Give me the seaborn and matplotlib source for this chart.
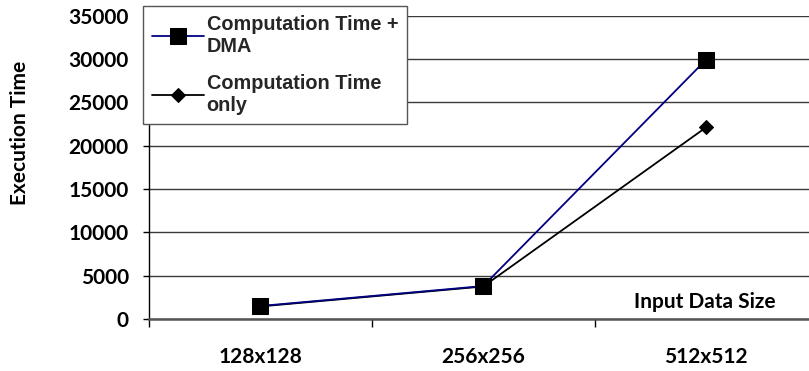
import matplotlib
matplotlib.use("Agg")
import matplotlib.pyplot as plt
import matplotlib.ticker as mticker
import seaborn as sns
import pandas as pd

# Data
categories = ["128x128", "256x256", "512x512"]
time_with_dma = [1500, 3800, 29900]
time_compute_only = [1450, 3750, 22100]
y_ticks = [0, 5000, 10000, 15000, 20000, 25000, 30000, 35000]

label_dma = "Computation Time +\nDMA"
label_only = "Computation Time\nonly"

sns.set_theme(style="white")
plt.rcParams["font.family"] = ["Lato", "DejaVu Sans"]

W, H, DPI = 809, 371, 100
fig = plt.figure(figsize=(W / DPI, H / DPI), dpi=DPI)
ax = fig.add_axes([149 / W, 52 / H, (W - 149) / W, (319 - 15.5) / H])

pos = list(range(len(categories)))
df = pd.DataFrame({
    "pos": pos * 2,
    "value": time_with_dma + time_compute_only,
    "series": [label_dma] * 3 + [label_only] * 3,
})

sns.lineplot(data=df[df.series == label_only], x="pos", y="value", ax=ax,
             color="black", lw=1.3, marker="D", markersize=6.8,
             markeredgecolor="black", markerfacecolor="black",
             label=label_only, zorder=3)
sns.lineplot(data=df[df.series == label_dma], x="pos", y="value", ax=ax,
             color="#000080", lw=1.3, marker="s", markersize=12,
             markeredgecolor="black", markerfacecolor="black",
             label=label_dma, zorder=4)

ax.set_xlim(-0.5, (809 - 260) / 223)
ax.set_ylim(0, 35000)

# Horizontal gridlines only
ax.yaxis.set_major_locator(mticker.FixedLocator(y_ticks))
ax.yaxis.set_major_formatter(mticker.FuncFormatter(lambda v, p: f"{int(v)}"))
ax.grid(axis="y", color="#3a3a3a", lw=1.0)
ax.grid(axis="x", visible=False)
ax.set_axisbelow(True)

# Category boundaries get tick marks, centers get labels
ax.xaxis.set_major_locator(mticker.FixedLocator([-0.5, 0.5, 1.5, 2.5]))
ax.xaxis.set_major_formatter(mticker.NullFormatter())
ax.xaxis.set_minor_locator(mticker.FixedLocator(pos))
ax.xaxis.set_minor_formatter(mticker.FixedFormatter(categories))
ax.tick_params(axis="x", which="major", direction="out", length=6, width=1, color="black", bottom=True)
ax.tick_params(axis="x", which="minor", length=0, pad=20, labelsize=15)
ax.tick_params(axis="y", which="major", direction="out", length=4.5, width=1, color="black", left=True,
               pad=10, labelsize=15)
for lab in ax.get_xticklabels(minor=True) + ax.get_yticklabels():
    lab.set_fontweight("bold")
    lab.set_color("black")

for side in ("top", "right"):
    ax.spines[side].set_visible(False)
ax.spines["left"].set_color("black")
ax.spines["left"].set_linewidth(1.0)
ax.spines["bottom"].set_color("#555555")
ax.spines["bottom"].set_linewidth(1.8)

ax.set_xlabel("")
ax.set_ylabel("")

# Axis titles
fig.text(20 / W, 1 - 133 / H, "Execution Time", rotation=90, ha="center", va="center",
         fontsize=15, fontweight="bold", color="black")
fig.text(705 / W, 1 - 302 / H, "Input Data Size", ha="center", va="center",
         fontsize=15, fontweight="bold", color="black")

# Legend, order as in the chart (the axes-level legend from seaborn is replaced)
handles, labels = ax.get_legend_handles_labels()
if ax.get_legend() is not None:
    ax.get_legend().remove()
order = [labels.index(label_dma), labels.index(label_only)]
leg = fig.legend([handles[i] for i in order], [labels[i] for i in order],
                 loc="upper left", bbox_to_anchor=(143 / W, 1 - 6 / H),
                 prop={"family": "Liberation Sans", "weight": "bold", "size": 14.3},
                 frameon=True, fancybox=False, framealpha=1, edgecolor="#555555",
                 handlelength=2.6, handletextpad=0.15, borderpad=0.45, labelspacing=0.9,
                 borderaxespad=0)
leg.get_frame().set_linewidth(1.0)

fig.savefig("out.png", dpi=DPI)
